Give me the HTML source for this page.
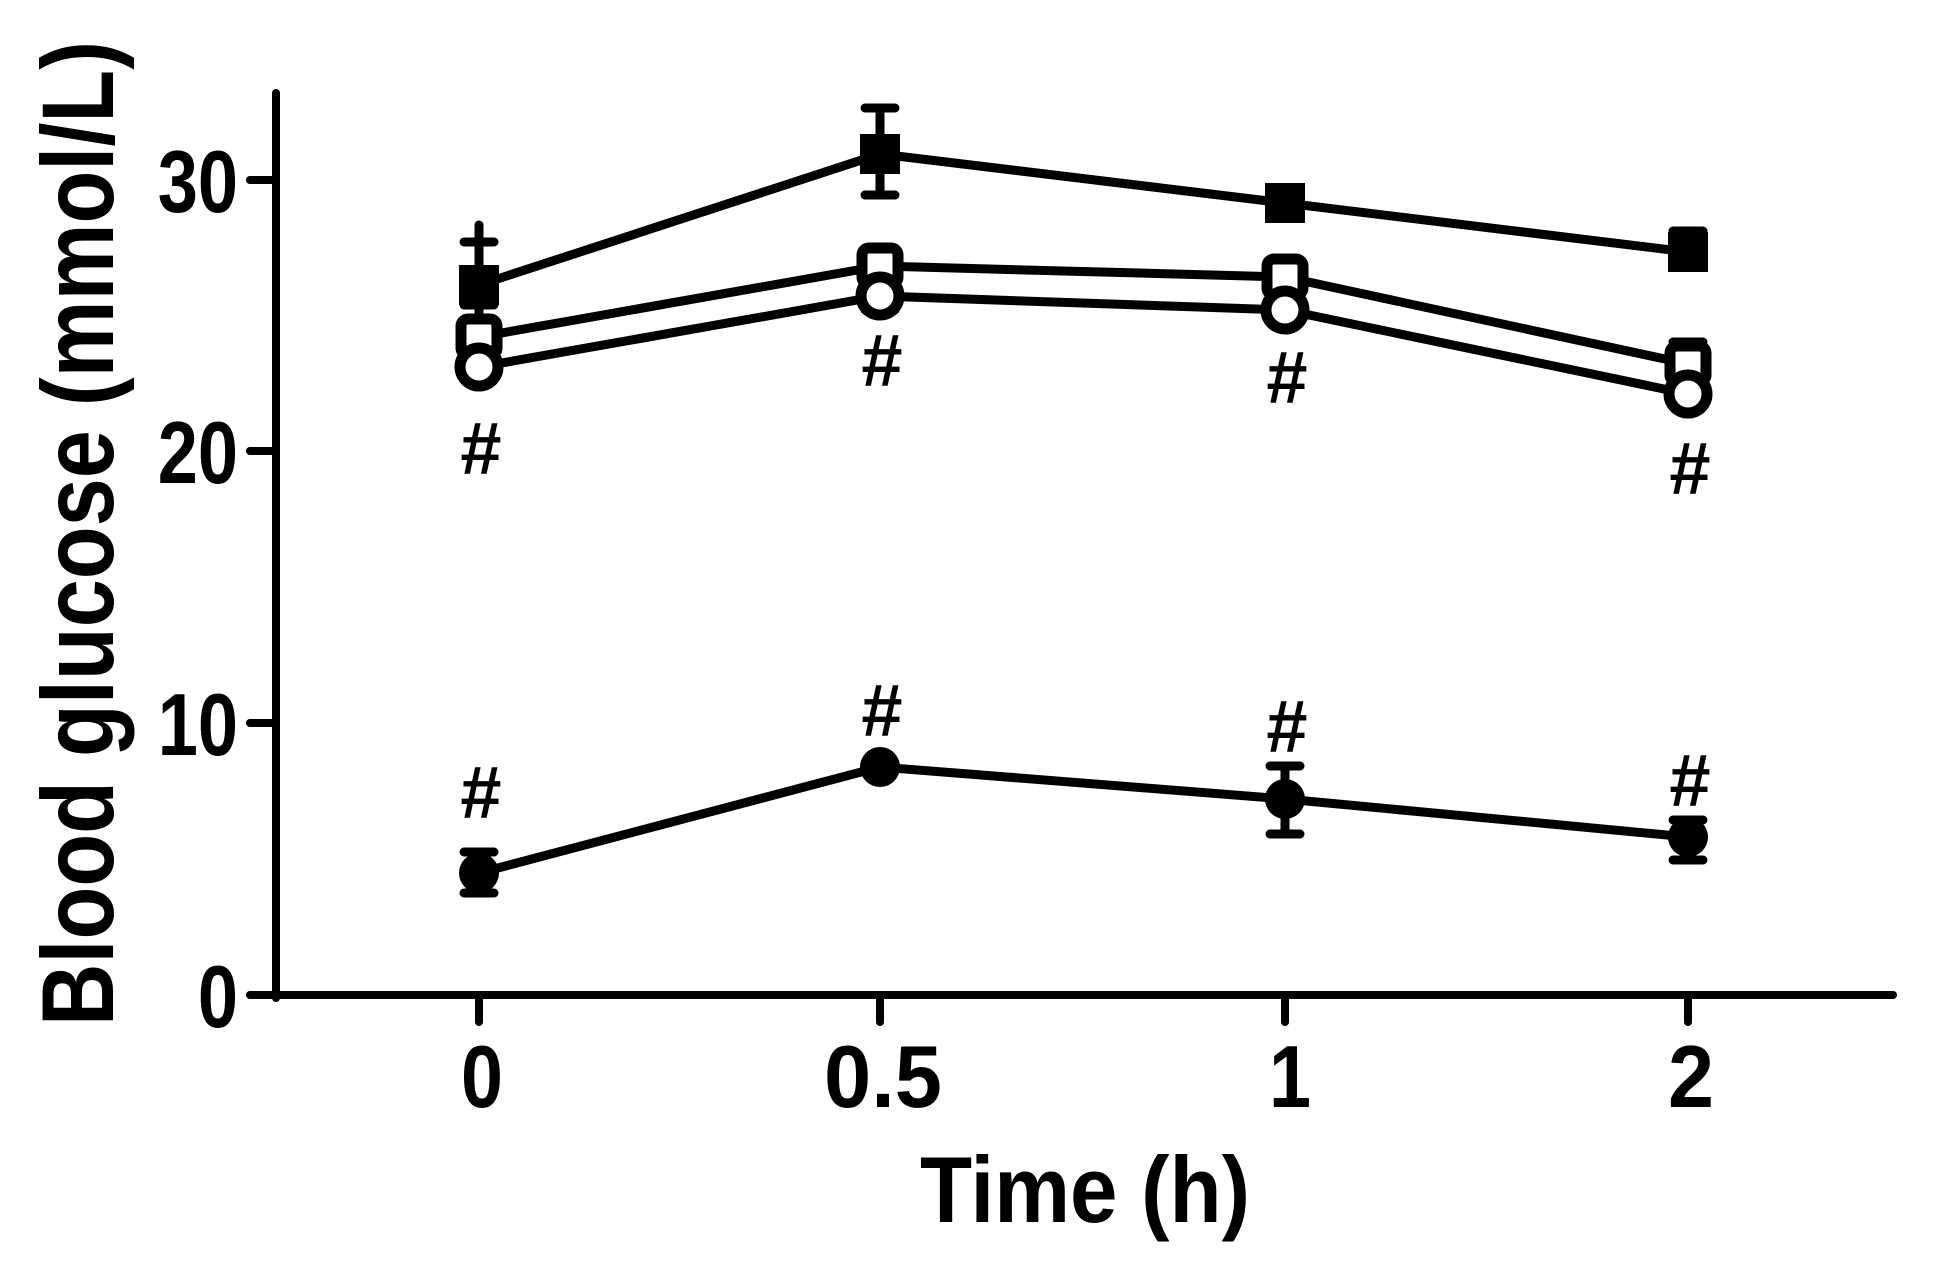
<!DOCTYPE html>
<html><head><meta charset="utf-8"><style>html,body{margin:0;padding:0;background:#fff}svg{display:block}</style></head>
<body>
<svg width="1950" height="1266" viewBox="0 0 1950 1266" xmlns="http://www.w3.org/2000/svg" font-family="Liberation Sans, sans-serif" font-weight="bold">
<rect width="1950" height="1266" fill="#fff"/>
<g stroke="#000" stroke-width="8" stroke-linecap="round" fill="none">
<line x1="276" y1="93" x2="276" y2="998"/>
<line x1="250" y1="995" x2="1893" y2="995"/>
<line x1="250" y1="723" x2="276" y2="723"/>
<line x1="250" y1="451" x2="276" y2="451"/>
<line x1="250" y1="180" x2="276" y2="180"/>
<line x1="479" y1="995" x2="479" y2="1022"/>
<line x1="880" y1="995" x2="880" y2="1022"/>
<line x1="1285" y1="995" x2="1285" y2="1022"/>
<line x1="1688" y1="995" x2="1688" y2="1022"/>
</g>
<g font-size="88" text-anchor="end">
<text x="238" y="1027" transform="translate(238 0) scale(0.82 1) translate(-238 0)">0</text>
<text x="238" y="755" transform="translate(238 0) scale(0.82 1) translate(-238 0)">10</text>
<text x="238" y="483" transform="translate(238 0) scale(0.82 1) translate(-238 0)">20</text>
<text x="238" y="212" transform="translate(238 0) scale(0.82 1) translate(-238 0)">30</text>
</g>
<g font-size="88" text-anchor="middle">
<text x="482" y="1107" textLength="42" lengthAdjust="spacingAndGlyphs">0</text>
<text x="883" y="1107" textLength="118" lengthAdjust="spacingAndGlyphs">0.5</text>
<text x="1290" y="1107" textLength="42" lengthAdjust="spacingAndGlyphs">1</text>
<text x="1691" y="1107" textLength="46" lengthAdjust="spacingAndGlyphs">2</text>
</g>
<text x="920" y="1222" font-size="94" textLength="330" lengthAdjust="spacingAndGlyphs">Time (h)</text>
<text transform="translate(113 1026) rotate(-90)" font-size="102" textLength="985" lengthAdjust="spacingAndGlyphs">Blood glucose (mmol/L)</text>

<g stroke="#000" stroke-width="9" fill="none" stroke-linecap="round">
<path d="M479 242V305M464 242H494M464 305H494"/>
<path d="M880 108V195M865 108H895M865 195H895"/>
<path d="M1688 231V267M1673 231H1703M1673 267H1703"/>
<path d="M479 225V366M464 366H494"/>
<path d="M880 262V310M865 310H895"/>
<path d="M1285 300H1270M1285 300H1300"/>
<path d="M1688 342H1673M1688 342H1703"/>
<path d="M479 852V893M464 852H494M464 893H494"/>
<path d="M1285 766V834M1270 766H1300M1270 834H1300"/>
<path d="M1688 820V860M1673 820H1703M1673 860H1703"/>
<polyline points="479,285 880,154 1285,203 1688,252"/>
<polyline points="479,337 880,266 1285,277 1688,364"/>
<polyline points="479,367 880,296 1285,310 1688,394"/>
<polyline points="479,873 880,767 1285,799 1688,837"/>
</g>
<g fill="#000">
<rect x="459" y="265" width="40" height="40"/>
<rect x="860" y="134" width="40" height="40"/>
<rect x="1265" y="183" width="40" height="40"/>
<rect x="1668" y="232" width="40" height="40"/>
<circle cx="479" cy="873" r="20"/>
<circle cx="880" cy="767" r="20"/>
<circle cx="1285" cy="799" r="20"/>
<circle cx="1688" cy="837" r="20"/>
</g>
<g fill="#fff" stroke="#000" stroke-width="11">
<rect x="461" y="319" width="36" height="36" rx="7"/>
<rect x="862" y="248" width="36" height="36" rx="7"/>
<rect x="1267" y="259" width="36" height="36" rx="7"/>
<rect x="1670" y="346" width="36" height="36" rx="7"/>
<circle cx="479" cy="367" r="19"/>
<circle cx="880" cy="296" r="19"/>
<circle cx="1285" cy="310" r="19"/>
<circle cx="1688" cy="394" r="19"/>
</g>
<g font-size="74" text-anchor="middle">
<text x="481" y="474">#</text>
<text x="882" y="386">#</text>
<text x="1287" y="403">#</text>
<text x="1690" y="494">#</text>
<text x="481" y="818">#</text>
<text x="882" y="736">#</text>
<text x="1287" y="752">#</text>
<text x="1690" y="806">#</text>
</g>
</svg>
</body></html>
